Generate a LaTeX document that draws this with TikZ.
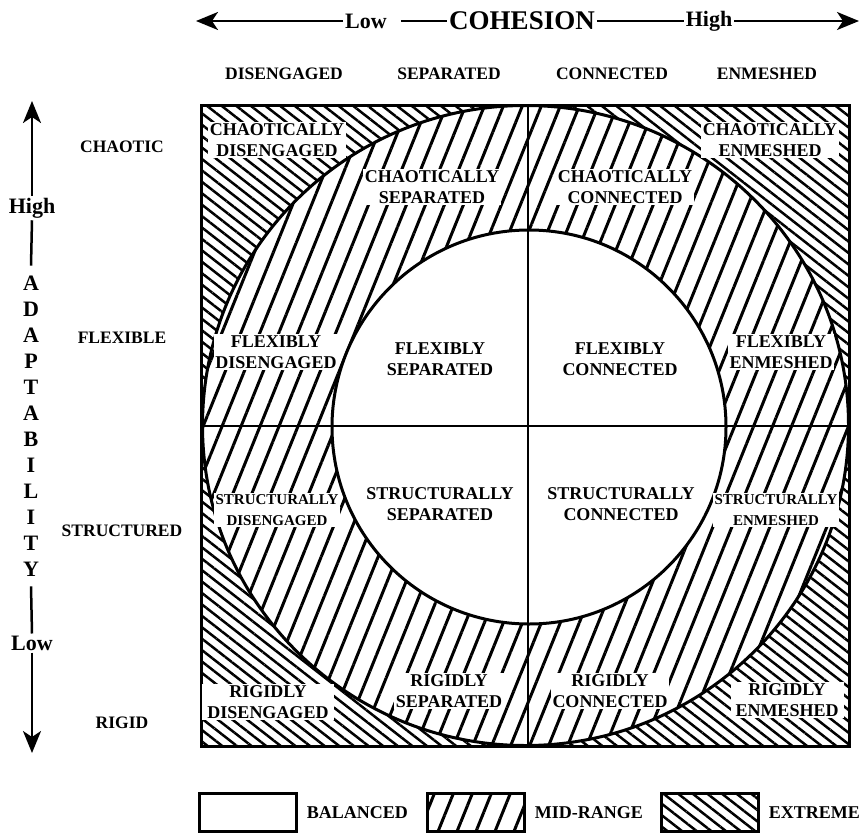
\documentclass[tikz,border=0pt]{standalone}
\usepackage{fontspec}
\setmainfont{Liberation Serif}
\usetikzlibrary{calc, positioning, arrows.meta, patterns.meta}

\newcommand{\cellfont}{\fontsize{18}{21}\selectfont\bfseries}
\newcommand{\narrowfont}{\fontsize{15}{21}\selectfont\bfseries}

\begin{document}
\begin{tikzpicture}[
    x=1pt, y=-1pt,
    frame/.style={line width=3pt},
    divider/.style={line width=2.6pt},
    midhatch/.style={pattern={Lines[angle=68, distance=17.6pt, line width=3pt]}},
    exthatch/.style={pattern={Lines[angle=-38, distance=9pt, line width=2.5pt]}},
    cell/.style={
        fill=white,
        inner sep=1.5pt,
        align=center,
        font=\cellfont
    },
    narrowcell/.style={cell, font=\narrowfont},
    colhead/.style={font=\fontsize{17.5}{20}\selectfont\bfseries},
    rowhead/.style={font=\fontsize{17.5}{20}\selectfont\bfseries},
    axistext/.style={font=\fontsize{22}{26}\selectfont\bfseries, inner sep=2pt},
    axisarr/.style={-{Stealth[length=22pt, width=18pt, inset=6pt]}, line width=2.5pt},
    axisline/.style={line width=2.5pt},
    legbox/.style={
        rectangle,
        draw,
        line width=2.5pt,
        minimum width=97pt,
        minimum height=38pt
    },
    legtext/.style={font=\fontsize{18}{21}\selectfont\bfseries, inner sep=1pt}
]
\useasboundingbox (0,0) rectangle (861,835);

% Regions
\path[exthatch, even odd rule]
    (201,105) rectangle (849,746)
    (525.5,425.5) ellipse [x radius=323, y radius=320];
\path[midhatch, even odd rule]
    (525.5,425.5) ellipse [x radius=323, y radius=320]
    (529,427) circle [radius=197];
\fill[white] (529,427) circle [radius=197];

% Outlines
\draw[frame] (525.5,425.5) ellipse [x radius=323, y radius=320];
\draw[frame] (529,427) circle [radius=197];
\draw[divider] (528,105) -- (528,746);
\draw[divider] (201,426) -- (849,426);
\draw[frame] (201,105) rectangle (849,746);

% Cohesion axis
\node[axistext, font=\fontsize{27}{30}\selectfont\bfseries] (coh) at (522,21) {COHESION};
\node[axistext] (lowtop) at (366,21) {Low};
\node[axistext] (hightop) at (709,21) {High};
\coordinate (ltip) at (196,21);
\coordinate (rtip) at (859,21);
\draw[axisarr] (lowtop.west) -- (ltip);
\draw[axisline] ($(lowtop.east)+(12,0)$) -- (coh.west);
\draw[axisline] (coh.east) -- (hightop.west);
\draw[axisarr] (hightop.east) -- (rtip);

% Column headers
\node[colhead] (hd1) at (284,74) {DISENGAGED};
\node[colhead] (hd2) at (449,74) {SEPARATED};
\node[colhead] (hd3) at (612,74) {CONNECTED};
\node[colhead] (hd4) at (767,74) {ENMESHED};

% Adaptability axis
\node[axistext] (highside) at (32,208) {High};
\node[axistext, align=center, inner ysep=10pt] (adapt) at (31,426)
    {A\\D\\A\\P\\T\\A\\B\\I\\L\\I\\T\\Y};
\node[axistext] (lowside) at (32,643) {Low};
\coordinate (utip) at (32,101);
\coordinate (dtip) at (32,753);
\draw[axisarr] (highside.north) -- (utip);
\draw[axisline] (highside.south) -- (adapt.north);
\draw[axisline] (adapt.south) -- (lowside.north);
\draw[axisarr] (lowside.south) -- (dtip);

% Row headers
\node[rowhead] (rw1) at (122,147) {CHAOTIC};
\node[rowhead] (rw2) at (122,338) {FLEXIBLE};
\node[rowhead] (rw3) at (122,531) {STRUCTURED};
\node[rowhead] (rw4) at (122,723) {RIGID};

% Cells
\node[cell] (ch1) at (277,140) {CHAOTICALLY\\DISENGAGED};
\node[cell] (ch2) at (432,187) {CHAOTICALLY\\SEPARATED};
\node[cell] (ch3) at (625,187) {CHAOTICALLY\\CONNECTED};
\node[cell] (ch4) at (770,140) {CHAOTICALLY\\ENMESHED};

\node[cell] (fl1) at (276,352) {FLEXIBLY\\DISENGAGED};
\node[cell] (fl2) at (440,359) {FLEXIBLY\\SEPARATED};
\node[cell] (fl3) at (620,359) {FLEXIBLY\\CONNECTED};
\node[cell] (fl4) at (781,352) {FLEXIBLY\\ENMESHED};

\node[narrowcell] (st1) at (277,510) {STRUCTURALLY\\DISENGAGED};
\node[cell] (st2) at (440,504) {STRUCTURALLY\\SEPARATED};
\node[cell] (st3) at (621,504) {STRUCTURALLY\\CONNECTED};
\node[narrowcell] (st4) at (776,510) {STRUCTURALLY\\ENMESHED};

\node[cell, inner xsep=5pt] (ri1) at (268,702) {RIGIDLY\\DISENGAGED};
\node[cell] (ri2) at (449,691) {RIGIDLY\\SEPARATED};
\node[cell] (ri3) at (610,691) {RIGIDLY\\CONNECTED};
\node[cell, inner xsep=5pt] (ri4) at (787,700) {RIGIDLY\\ENMESHED};

% Legend
\node[legbox] (lg1) at (248,812.5) {};
\node[legbox, midhatch] (lg2) at (476,812.5) {};
\node[legbox, exthatch] (lg3) at (710,812.5) {};
\node[legtext, right=8pt of lg1] (lgt1) {BALANCED};
\node[legtext, right=8pt of lg2] (lgt2) {MID-RANGE};
\node[legtext, right=8pt of lg3] (lgt3) {EXTREME};
\end{tikzpicture}
\end{document}
